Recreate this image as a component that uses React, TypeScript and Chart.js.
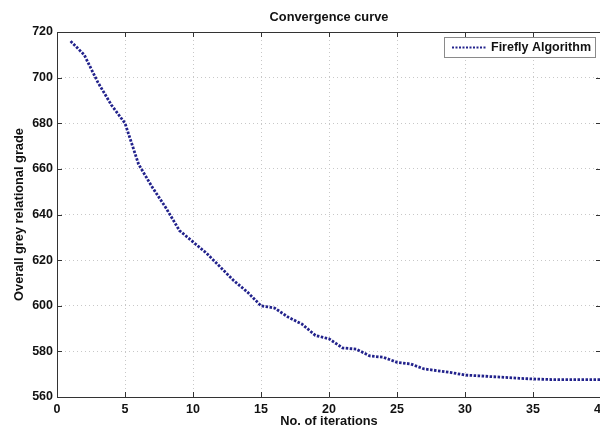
import React, { useEffect, useRef } from "react";
import { Chart, registerables } from "chart.js";

Chart.register(...registerables);

const iterations = [1, 2, 3, 4, 5, 6, 7, 8, 9, 10, 11, 12, 13, 14, 15, 16, 17, 18, 19, 20,
  21, 22, 23, 24, 25, 26, 27, 28, 29, 30, 31, 32, 33, 34, 35, 36, 37, 38, 39, 40];
const fireflyValues = [716, 710, 698, 688, 680, 662, 652, 643, 633, 628, 623, 617, 611, 606, 600, 599, 595, 592, 587, 585.5,
  581.5, 581, 578, 577.4, 575.2, 574.5, 572.3, 571.5, 570.7, 569.6, 569.3, 568.9, 568.6, 568.2, 567.9, 567.7, 567.6, 567.6, 567.6, 567.6];
const xTicks = [0, 5, 10, 15, 20, 25, 30, 35, 40];
const yTicks = [560, 580, 600, 620, 640, 660, 680, 700, 720];
const chartTitle = "Convergence curve";
const xTitle = "No. of iterations";
const yTitle = "Overall grey relational grade";
const seriesName = "Firefly Algorithm";

const FONT = "'Liberation Sans', Arial, Helvetica, sans-serif";
const LINE_COLOR = "#22228c";
const AXIS_COLOR = "#333333";

const decorPlugin = {
  id: "decor",
  beforeDraw(chart: any) {
    const ctx = chart.ctx;
    ctx.save();
    ctx.fillStyle = "#ffffff";
    ctx.fillRect(0, 0, chart.width, chart.height);
    ctx.restore();
  },
  afterDatasetsDraw(chart: any) {
    const ctx = chart.ctx;
    const { left, right, top, bottom } = chart.chartArea;
    const xs = chart.scales.x;
    const ys = chart.scales.y;
    ctx.save();
    // frame
    ctx.strokeStyle = AXIS_COLOR;
    ctx.lineWidth = 1;
    ctx.setLineDash([]);
    ctx.beginPath();
    ctx.rect(Math.round(left) + 0.5, Math.round(top) + 0.5, Math.round(right - left), Math.round(bottom - top));
    ctx.stroke();
    // inward ticks
    const tl = 5;
    ctx.beginPath();
    xTicks.forEach((v) => {
      const px = Math.round(xs.getPixelForValue(v)) + 0.5;
      ctx.moveTo(px, bottom);
      ctx.lineTo(px, bottom - tl);
      ctx.moveTo(px, top);
      ctx.lineTo(px, top + tl);
    });
    yTicks.forEach((v) => {
      const py = Math.round(ys.getPixelForValue(v)) + 0.5;
      ctx.moveTo(left, py);
      ctx.lineTo(left + tl, py);
      ctx.moveTo(right, py);
      ctx.lineTo(right - tl, py);
    });
    ctx.stroke();

    // title
    ctx.fillStyle = "#111111";
    ctx.font = `bold 12.8px ${FONT}`;
    ctx.textAlign = "center";
    ctx.textBaseline = "middle";
    ctx.fillText(chartTitle, (left + right) / 2, 17);

    // legend
    const bx = 444.5, by = 37.5, bw = 151, bh = 20;
    ctx.fillStyle = "#ffffff";
    ctx.fillRect(bx, by, bw, bh);
    ctx.strokeStyle = "#8a8a8a";
    ctx.lineWidth = 1;
    ctx.strokeRect(bx, by, bw, bh);
    ctx.strokeStyle = LINE_COLOR;
    ctx.lineWidth = 2;
    ctx.setLineDash([2, 1.5]);
    ctx.beginPath();
    ctx.moveTo(452, by + bh / 2);
    ctx.lineTo(487, by + bh / 2);
    ctx.stroke();
    ctx.setLineDash([]);
    ctx.fillStyle = "#111111";
    ctx.font = `bold 12.5px ${FONT}`;
    ctx.textAlign = "left";
    ctx.textBaseline = "middle";
    ctx.fillText(seriesName, 491, by + bh / 2 + 0.5);
    ctx.restore();
  },
};

const zeroPad = (s: any) => {
  s.paddingLeft = 0;
  s.paddingRight = 0;
  s.paddingTop = 0;
  s.paddingBottom = 0;
};

export default function App() {
  const ref = useRef<HTMLCanvasElement | null>(null);

  useEffect(() => {
    if (!ref.current) return;
    const tickFont = { family: FONT, size: 12.5, weight: "bold" as const };
    const titleFont = { family: FONT, size: 12.8, weight: "bold" as const };
    const chart = new Chart(ref.current, {
      type: "line",
      data: {
        datasets: [
          {
            label: seriesName,
            data: iterations.map((x, i) => ({ x, y: fireflyValues[i] })),
            borderColor: LINE_COLOR,
            backgroundColor: LINE_COLOR,
            borderWidth: 2.8,
            borderDash: [2.5, 1.5],
            pointRadius: 0,
            tension: 0,
            fill: false,
          },
        ],
      },
      options: {
        animation: false,
        responsive: false,
        maintainAspectRatio: false,
        layout: { padding: { left: 0, right: 9, top: 32, bottom: 0 } },
        plugins: {
          legend: { display: false },
          title: { display: false },
          tooltip: { enabled: false },
        },
        scales: {
          x: {
            type: "linear",
            min: 0,
            max: 40,
            afterBuildTicks: (s: any) => {
              s.ticks = xTicks.map((v) => ({ value: v }));
            },
            ticks: {
              font: tickFont,
              color: "#111111",
              padding: 5,
              maxRotation: 0,
              autoSkip: false,
            },
            grid: { color: "#c8c8c8", lineWidth: 1, drawTicks: false },
            border: { display: false, dash: [1, 3] },
            title: {
              display: true,
              text: xTitle,
              font: titleFont,
              color: "#111111",
              padding: { top: 0, bottom: 0 },
            },
            afterFit: (s: any) => {
              s.height = 32;
              zeroPad(s);
            },
          },
          y: {
            type: "linear",
            min: 560,
            max: 720,
            afterBuildTicks: (s: any) => {
              s.ticks = yTicks.map((v) => ({ value: v }));
            },
            ticks: {
              font: tickFont,
              color: "#111111",
              padding: 4,
              autoSkip: false,
            },
            grid: { color: "#c8c8c8", lineWidth: 1, drawTicks: false },
            border: { display: false, dash: [1, 3] },
            title: {
              display: true,
              text: yTitle,
              font: titleFont,
              color: "#111111",
              padding: { top: 12, bottom: 0 },
            },
            afterFit: (s: any) => {
              s.width = 57;
              zeroPad(s);
            },
          },
        },
      },
      plugins: [decorPlugin],
    });
    return () => chart.destroy();
  }, []);

  return (
    <div
      style={{
        position: "fixed",
        left: 0,
        top: 0,
        width: 600,
        height: 429,
        overflow: "hidden",
        background: "#fff",
      }}
    >
      <canvas ref={ref} width={610} height={429} style={{ width: 610, height: 429, display: "block" }} />
    </div>
  );
}
